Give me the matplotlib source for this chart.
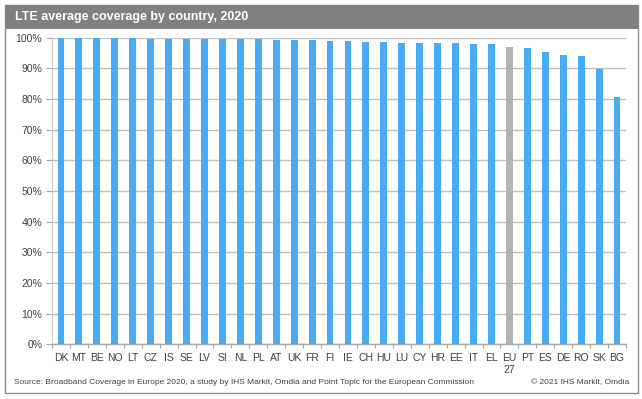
import matplotlib
matplotlib.use("Agg")
import matplotlib.pyplot as plt
from matplotlib.patches import Rectangle
from matplotlib.ticker import FixedLocator, PercentFormatter

countries = ["DK", "MT", "BE", "NO", "LT", "CZ", "IS", "SE", "LV", "SI", "NL", "PL",
             "AT", "UK", "FR", "FI", "IE", "CH", "HU", "LU", "CY", "HR", "EE", "IT",
             "EL", "EU\n27", "PT", "ES", "DE", "RO", "SK", "BG"]
coverage = [100.0, 100.0, 100.0, 100.0, 100.0, 99.7, 99.7, 99.7, 99.5, 99.5, 99.5, 99.5,
            99.3, 99.3, 99.3, 99.0, 99.0, 98.6, 98.6, 98.4, 98.4, 98.4, 98.2, 97.9,
            97.9, 97.1, 96.6, 95.4, 94.4, 93.9, 89.8, 80.7]
highlight = "EU\n27"
yticks = [0, 10, 20, 30, 40, 50, 60, 70, 80, 90, 100]

title = "LTE average coverage by country, 2020"
source = ("Source: Broadband Coverage in Europe 2020, a study by IHS Markit, Omdia "
          "and Point Topic for the European Commission")
copyright_txt = "\u00a9 2021 IHS Markit, Omdia"

FONT = ["Liberation Sans", "DejaVu Sans"]
plt.rcParams["font.family"] = FONT

W, H = 642, 399
fig = plt.figure(figsize=(W / 100, H / 100), dpi=100)
fig.patch.set_facecolor("white")

def fx(px):
    return px / W

def fy(py):
    return 1 - py / H

# outer border
fig.patches.append(Rectangle((fx(5.5), fy(392.5)), fx(637.5) - fx(5.5), fy(5) - fy(392.5),
                             transform=fig.transFigure, facecolor="none",
                             edgecolor="#8c8c8c", linewidth=1.0, zorder=0))
# title bar
fig.patches.append(Rectangle((fx(5.5), fy(28.5)), fx(637.5) - fx(5.5), fy(5) - fy(28.5),
                             transform=fig.transFigure, facecolor="#808080",
                             edgecolor="none", zorder=1))
fig.text(fx(15), fy(17), title, color="white", fontsize=9.0, fontweight="bold",
         va="center", ha="left", family=FONT)

left, right, top, bottom = 52, 626, 37.7, 344.3
ax = fig.add_axes([fx(left), fy(bottom), fx(right) - fx(left), fy(top) - fy(bottom)])
ax.set_zorder(5)
ax.patch.set_alpha(0)

colors = ["#b3b3b6" if c == highlight else "#47abf6" for c in countries]
x = list(range(len(countries)))
ax.bar(x, coverage, width=0.38, color=colors, zorder=3)

ax.set_xlim(-0.5, len(countries) - 0.5)
ax.set_ylim(0, 100)
ax.set_yticks(yticks)
ax.yaxis.set_major_formatter(PercentFormatter(decimals=0))
ax.grid(axis="y", color="#c0c0c0", linewidth=1.0, zorder=0)
ax.set_axisbelow(True)

ax.set_xticks(x)
ax.set_xticklabels(countries, fontsize=7.5, color="#404040", linespacing=1.3)
ax.xaxis.set_minor_locator(FixedLocator([i - 0.5 for i in range(len(countries) + 1)]))
ax.tick_params(axis="x", which="major", length=0, pad=6)
ax.tick_params(axis="x", which="minor", length=3, color="#a6a6a6", width=0.8)
ax.tick_params(axis="y", labelsize=7.5, labelcolor="#404040", length=4,
               color="#a6a6a6", width=0.8, pad=3)

for s in ["top", "right"]:
    ax.spines[s].set_visible(False)
ax.spines["left"].set_color("#c8c8c8")
ax.spines["left"].set_linewidth(0.8)
ax.spines["bottom"].set_color("#a6a6a6")
ax.spines["bottom"].set_linewidth(1.0)

fig.text(fx(14), fy(384), source, fontsize=6.0, color="#404040", ha="left",
         va="baseline", family=FONT)
fig.text(fx(629.5), fy(384), copyright_txt, fontsize=6.0, color="#404040", ha="right",
         va="baseline", family=FONT)

fig.savefig("out.png", dpi=100)
